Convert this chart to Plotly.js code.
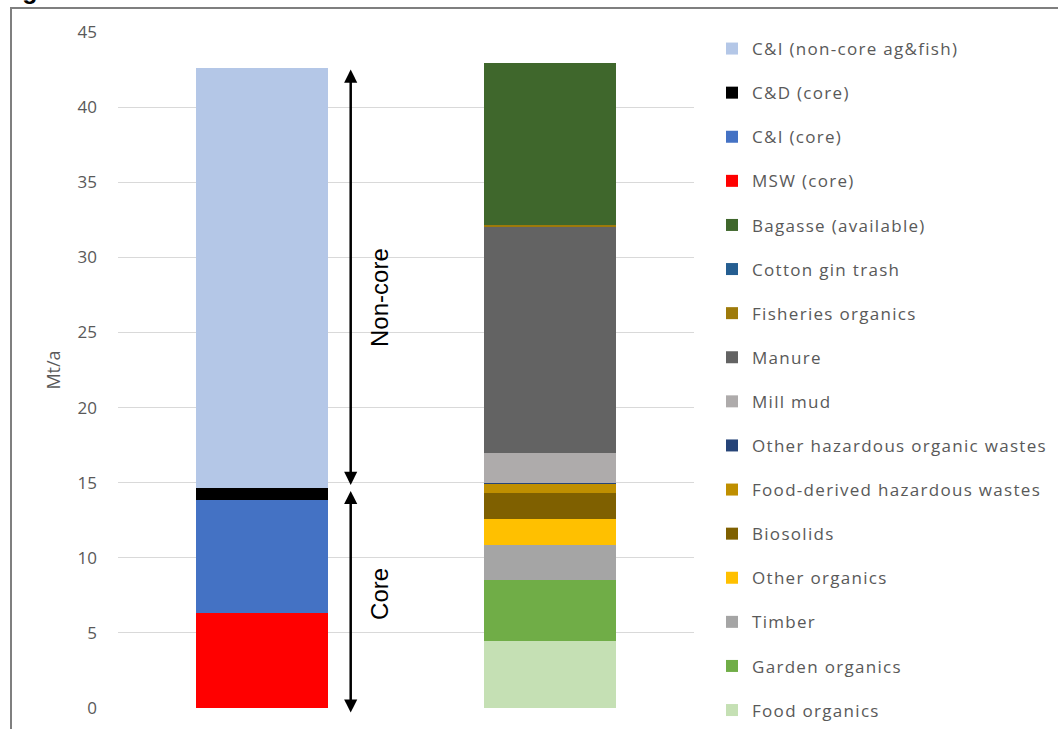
<!DOCTYPE html>
<html>
<head>
<meta charset="utf-8">
<script src="https://cdn.plot.ly/plotly-3.0.1.min.js"></script>
<style>
  html, body { margin: 0; padding: 0; background: #fff; overflow: hidden; }
  #chart { position: absolute; left: 0; top: 0; width: 1058px; height: 729px; }
  #frame { position: absolute; left: 10px; top: 7px; width: 1100px; height: 800px;
           border-left: 2px solid #7f7f7f; border-top: 2px solid #7f7f7f; pointer-events: none; }
  #cap { position: absolute; left: 0px; top: -24px; line-height: 29px; font: bold 25px "Liberation Sans", Arial, sans-serif; color: #000; white-space: nowrap; }
  .legendtext { letter-spacing: 1.3px; }
</style>
</head>
<body>
<div id="chart"></div>
<div id="cap">Figure</div>
<div id="frame"></div>
<script>
// Categories (two stacked bars)
const categories = ["Core / non-core", "By material"];

// Series, listed bottom-to-top of the stacks
const seriesNames = [
  "Food organics", "Garden organics", "Timber", "Other organics", "Biosolids",
  "Food-derived hazardous wastes", "Other hazardous organic wastes", "Mill mud",
  "Manure", "Fisheries organics", "Cotton gin trash", "Bagasse (available)",
  "MSW (core)", "C&I (core)", "C&D (core)", "C&I (non-core ag&fish)"
];
const leftValues  = [0, 0, 0, 0, 0, 0, 0, 0, 0, 0, 0, 0, 6.3, 7.55, 0.8, 27.95];
const rightValues = [4.45, 4.05, 2.35, 1.75, 1.7, 0.62, 0.05, 2.03, 15.0, 0.12, 0.03, 10.8, 0, 0, 0, 0];
const seriesColors = [
  "#C5E0B4", "#70AD47", "#A5A5A5", "#FFC000", "#7F6000",
  "#BF8F00", "#264478", "#AEABAB",
  "#636363", "#9E7A0A", "#255E91", "#3F672C",
  "#FF0000", "#4472C4", "#000000", "#B4C7E7"
];

// Bracket annotations (range in Mt/a)
const coreRange = [-0.3, 14.55];
const nonCoreRange = [14.75, 42.5];

const traces = seriesNames.map((name, i) => ({
  type: "bar",
  name: name,
  x: categories,
  y: [leftValues[i] || null, rightValues[i] || null],
  marker: { color: seriesColors[i], line: { width: 0 } },
  legendgroup: "g" + i,
  legendrank: seriesNames.length - i,
  hoverinfo: "name+y"
}));

const arrowX = 0.308;
const labelX = 0.41;
const arrowStyle = {
  xref: "x", yref: "y", axref: "x", ayref: "y",
  text: "", showarrow: true, arrowhead: 2, arrowside: "end+start",
  arrowsize: 1.05, arrowwidth: 2.5, arrowcolor: "#000",
  standoff: 0, startstandoff: 0, font: { size: 1 }
};

const layout = {
  width: 1058, height: 729,
  margin: { l: 118, r: 364, t: 32, b: 21, autoexpand: false },
  paper_bgcolor: "rgba(0,0,0,0)",
  plot_bgcolor: "rgba(0,0,0,0)",
  barmode: "stack",
  bargap: 0.544,
  font: { family: "Open Sans, sans-serif", color: "#595959" },
  xaxis: { showticklabels: false, showgrid: false, zeroline: false, showline: false, ticks: "" },
  yaxis: {
    range: [0, 45], dtick: 5, showgrid: true, gridcolor: "#D9D9D9", gridwidth: 1,
    zeroline: false, showline: false, ticks: "", ticklabelstandoff: 20,
    tickfont: { size: 17, color: "#595959" },
    title: { text: "Mt/a", font: { size: 18, color: "#595959" }, standoff: 12 }
  },
  showlegend: true,
  legend: {
    x: 712 / 1058, xref: "container", xanchor: "left",
    y: 1 - 31 / 729, yref: "container", yanchor: "top",
    traceorder: "grouped", tracegroupgap: 19, maxheight: 729,
    font: { size: 17, color: "#595959" },
    itemclick: false, bgcolor: "rgba(0,0,0,0)"
  },
  annotations: [
    Object.assign({}, arrowStyle, { x: arrowX, y: nonCoreRange[1], ax: arrowX, ay: nonCoreRange[0] }),
    Object.assign({}, arrowStyle, { x: arrowX, y: coreRange[0], ax: arrowX, ay: coreRange[1] }),
    { xref: "x", yref: "y", x: labelX, y: 27.3, text: "Non-core", showarrow: false, textangle: -90,
      font: { family: "Liberation Sans, Arial, sans-serif", size: 24, color: "#000" } },
    { xref: "x", yref: "y", x: labelX, y: 7.6, text: "Core", showarrow: false, textangle: -90,
      font: { family: "Liberation Sans, Arial, sans-serif", size: 24, color: "#000" } }
  ]
};

Plotly.newPlot("chart", traces, layout, { staticPlot: true, displayModeBar: false });
</script>
</body>
</html>
